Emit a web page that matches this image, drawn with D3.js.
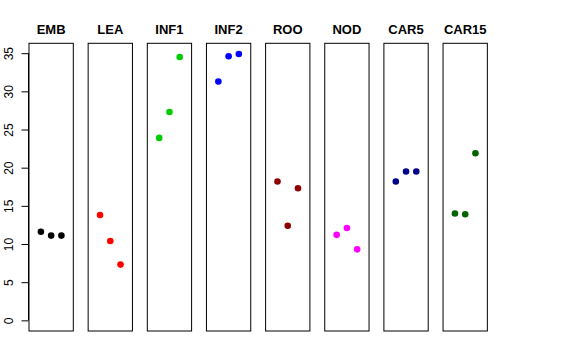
<!DOCTYPE html>
<html><head><meta charset="utf-8">
<script src="https://cdn.jsdelivr.net/npm/d3@7"></script>
<style>body{margin:0;background:#fff}svg{display:block}</style>
</head><body>
<script>
const categories = ["EMB","LEA","INF1","INF2","ROO","NOD","CAR5","CAR15"];
const colors = ["#000000","#FF0000","#00CD00","#0000FF","#8B0000","#FF00FF","#00008B","#006400"];
const EMB = [11.6, 11.1, 11.1];
const LEA = [13.8, 10.4, 7.3];
const INF1 = [23.9, 27.3, 34.5];
const INF2 = [31.3, 34.6, 34.9];
const ROO = [18.2, 12.4, 17.3];
const NOD = [11.2, 12.1, 9.3];
const CAR5 = [18.2, 19.5, 19.5];
const CAR15 = [14.0, 13.9, 21.9];
const yTicks = [0,5,10,15,20,25,30,35];
const seriesValues = [EMB, LEA, INF1, INF2, ROO, NOD, CAR5, CAR15];

const W = 576, H = 360;
const svg = d3.select("body").append("svg").attr("width", W).attr("height", H);

const y = d3.scaleLinear().domain([0 - 34.9*0.04, 34.9*1.04]).range([331, 43.3]);
const panelW = 44.3, step = 59.15;
const x0 = 29;

categories.forEach((c, i) => {
  const left = x0 + i*step;
  const x = d3.scaleLinear().domain([0 - 4*0.04, 4*1.04]).range([left, left + panelW]);
  const g = svg.append("g");
  g.append("rect").attr("x", left).attr("y", 43.3).attr("width", panelW).attr("height", 331-43.3)
    .attr("fill", "none").attr("stroke", "#000").attr("stroke-width", 1);
  g.selectAll("circle").data(seriesValues[i]).join("circle")
    .attr("cx", (d, j) => x(j + 1)).attr("cy", d => y(d)).attr("r", 3.3)
    .attr("fill", colors[i]);
  g.append("text").attr("x", left + panelW/2).attr("y", 34)
    .attr("text-anchor", "middle").attr("font-family", "Liberation Sans, Arial, sans-serif")
    .attr("font-weight", "bold").attr("font-size", 13).text(c);
});

const axis = d3.axisLeft(y).tickValues(yTicks).tickSize(7).tickPadding(4).tickSizeOuter(0);
const ag = svg.append("g").attr("transform", "translate(28.5,0)").call(axis);
ag.select(".domain").attr("d", `M0,${y(0)}V${y(35)}`).attr("stroke", "#000");
ag.selectAll(".tick text").each(function(){
  d3.select(this)
    .attr("font-family", "Liberation Sans, Arial, sans-serif").attr("font-size", 12)
    .attr("fill", "#000").attr("text-anchor", "middle")
    .attr("transform", "rotate(-90)").attr("x", 0).attr("y", -15.5).attr("dy", "0");
});
</script>
</body></html>
